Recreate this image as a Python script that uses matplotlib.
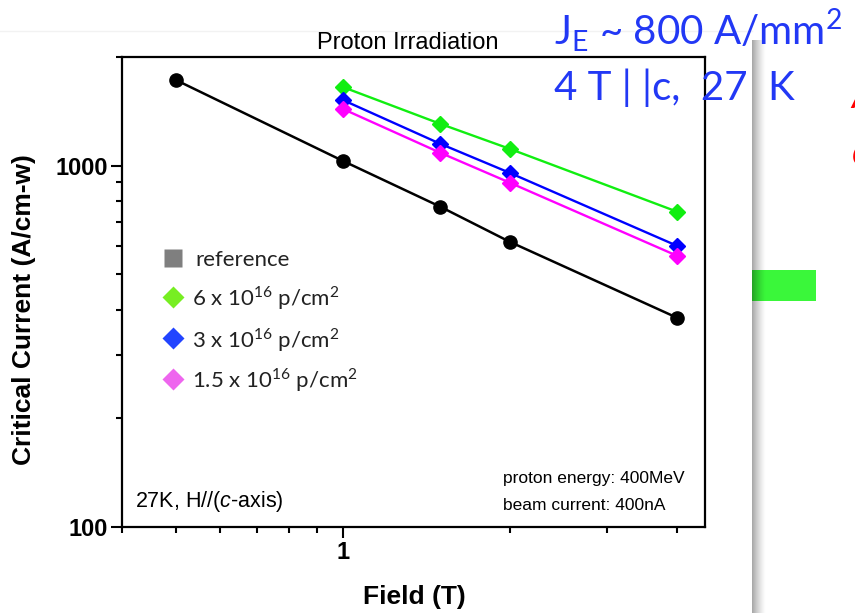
import numpy as np
import matplotlib
matplotlib.use("Agg")
import matplotlib.pyplot as plt
from matplotlib.patches import Rectangle

plt.rcParams.update({
    "font.family": "Liberation Sans",
    "mathtext.fontset": "custom",
    "mathtext.rm": "Lato",
    "mathtext.it": "Liberation Sans:italic",
})

W, H = 855, 613

# Critical current vs. field, 27 K, H // c
field_ref = [0.5, 1, 1.5, 2, 4]
jc_ref = [1728, 1032, 770, 616, 380]

field_irr = [1, 1.5, 2, 4]
jc_6e16 = [1652, 1306, 1114, 747]
jc_3e16 = [1521, 1150, 956, 601]
jc_1p5e16 = [1437, 1086, 898, 564]

legend_labels = [
    "reference",
    "6 x 10$^{\\mathrm{16}}$ p/cm$^{\\mathrm{2}}$",
    "3 x 10$^{\\mathrm{16}}$ p/cm$^{\\mathrm{2}}$",
    "1.5 x 10$^{\\mathrm{16}}$ p/cm$^{\\mathrm{2}}$",
]


def fx(x):
    return x / W


def fy(y):
    return 1 - y / H


fig = plt.figure(figsize=(W / 100, H / 100), dpi=100)
ax = fig.add_axes([fx(122), fy(527), fx(705) - fx(122), fy(57) - fy(527)])

ax.plot(field_ref, jc_ref, "-o", color="black", lw=1.8, ms=9.5, zorder=5)
ax.plot(field_irr, jc_6e16, "-D", color="#11EE11", lw=1.7, ms=8.5, zorder=4)
ax.plot(field_irr, jc_3e16, "-D", color="#0000FF", lw=1.7, ms=8.5, zorder=4)
ax.plot(field_irr, jc_1p5e16, "-D", color="#FF00FF", lw=1.7, ms=8.5, zorder=4)

ax.set_xscale("log")
ax.set_yscale("log")
ax.set_xlim(0.4, 4.5)
ax.set_ylim(100, 2000)

ax.set_xticks([1])
ax.set_xticklabels(["1"])
ax.set_xticks([0.4, 0.5, 0.6, 0.7, 0.8, 0.9, 2, 3, 4], minor=True)
ax.set_xticklabels([], minor=True)
ax.set_yticks([100, 1000])
ax.set_yticklabels(["100", "1000"])
ax.set_yticks([200, 300, 400, 500, 600, 700, 800, 900, 2000], minor=True)
ax.set_yticklabels([], minor=True)

ax.tick_params(which="major", length=8, width=1.5, labelsize=17, pad=2)
ax.tick_params(which="minor", length=4.5, width=1.5)
ax.tick_params(top=False, right=False, which="both")
for lab in ax.get_xticklabels() + ax.get_yticklabels():
    lab.set_fontweight("bold")
for sp in ax.spines.values():
    sp.set_linewidth(1.6)

fig.text(fx(24), fy(310), "Critical Current (A/cm-w)", rotation=90,
         ha="center", va="center", fontsize=19, fontweight="bold")
fig.text(fx(414), fy(597), "Field (T)", ha="center", va="center",
         fontsize=19, fontweight="bold")
fig.text(fx(408), fy(49), "Proton Irradiation", ha="center", va="baseline",
         fontsize=17)

fig.text(fx(135), fy(507), "27K, H//($\\mathit{c}$-axis)", ha="left",
         va="baseline", fontsize=15.5)
fig.text(fx(503), fy(483), "proton energy: 400MeV", ha="left",
         va="baseline", fontsize=12.5)
fig.text(fx(503), fy(510), "beam current: 400nA", ha="left",
         va="baseline", fontsize=12.5)

# legend drawn by hand inside the axes
leg_marker = ["s", "D", "D", "D"]
leg_color = ["#7F7F7F", "#77EE22", "#2244FF", "#EE66EE"]
leg_size = [13, 11, 11, 11]
leg_y = [258, 297, 338, 379]
leg_base = [266, 306, 347, 387]
ax_h = 527 - 57
for m, c, s, yc, yb, lab in zip(leg_marker, leg_color, leg_size, leg_y,
                                leg_base, legend_labels):
    ax.plot([(173 - 122) / 583], [(527 - yc) / ax_h], m, color=c, ms=s,
            mec="none", transform=ax.transAxes, clip_on=False)
    x0 = 195 if lab == "reference" else 192
    ax.text((x0 - 122) / 583, (527 - yb) / ax_h, lab, transform=ax.transAxes,
            ha="left", va="baseline", fontsize=16, family="Lato",
            color="#222222")

# slide elements around the plot
deco = fig.add_axes([0, 0, 1, 1])
deco.axis("off")

deco.plot([0, 752], [31, 31], color="#F2F2F2", lw=1)
deco.add_patch(Rectangle((752, 270), 64, 31, color="#3AF73A", lw=0))

grad = np.zeros((2, 64, 4))
grad[..., 3] = np.linspace(0.45, 0.0, 64) ** 1.3
deco.imshow(grad, extent=(752, 766, H, 40), aspect="auto", zorder=3,
            interpolation="bilinear")
deco.set_xlim(0, W)
deco.set_ylim(H, 0)

deco.text(554, 45, "J$_{\\mathrm{E}}$ ~ 800 A/mm$^{\\mathrm{2}}$",
          ha="left", va="baseline", fontsize=29, family="Lato",
          color="#2238F5", zorder=5)
deco.text(554, 100, "4 T | |c,  27  K", ha="left", va="baseline",
          fontsize=29, family="Lato", color="#2238F5", zorder=5)
deco.text(851, 108, "A", ha="left", va="baseline", fontsize=29,
          family="Lato", style="italic", color="#FF0000", zorder=5)
deco.text(852, 165, "c", ha="left", va="baseline", fontsize=29,
          family="Lato", style="italic", color="#FF0000", zorder=5)

fig.savefig("out.png", dpi=100)
